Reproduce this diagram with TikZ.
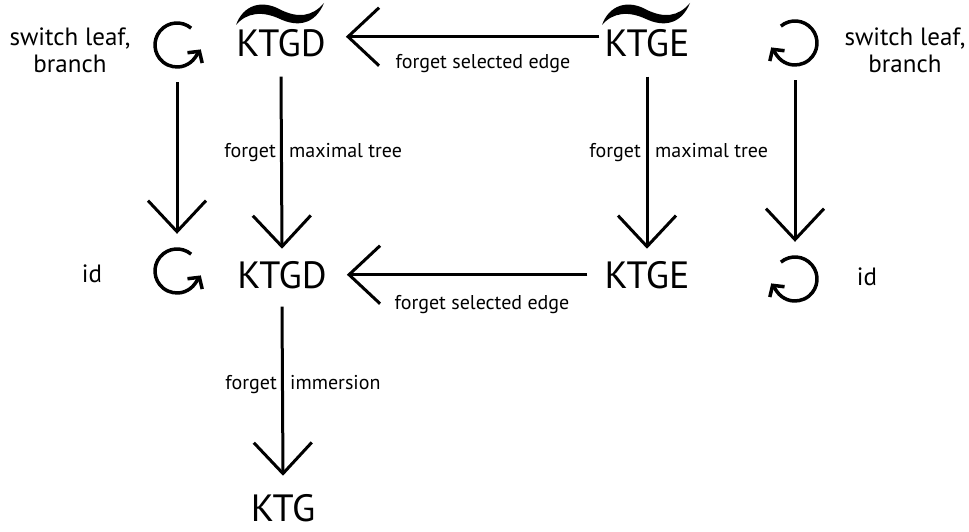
\documentclass[tikz,border=0pt]{standalone}
\usepackage{fontspec}
\setmainfont{PT Sans}
\usetikzlibrary{arrows.meta}
\begin{document}
\begin{tikzpicture}[x=1pt,y=1pt,
  big/.style={font=\fontsize{38}{40}\selectfont, inner sep=0pt, anchor=base},
  side/.style={font=\fontsize{25}{27}\selectfont, align=center, inner sep=0pt},
  lab/.style={font=\fontsize{20}{24}\selectfont, inner sep=0pt},
  spot/.style={circle, minimum size=74pt, inner sep=0pt},
  map/.style={line width=3pt, -{Straight Barb[length=31pt,width=58pt]}},
  cyc/.style={line width=3.5pt, -{Straight Barb[length=8pt,width=18pt]}},
]
\useasboundingbox (0,0) rectangle (969,531);

% top row
\node[side] (swL) at (70,481) {switch leaf,\\branch};
\node[spot] (cTL) at (177,486) {};
\node[big] (ktgdT) at (281,474) {KTGD};
\node[big] (ktgeT) at (647,474) {KTGE};
\node[spot] (cTR) at (795,488) {};
\node[side] (swR) at (905,481) {switch leaf,\\branch};

% middle row
\node[side, anchor=base] (idL) at (92,249) {id};
\node[spot] (cML) at (177,260) {};
\node[big] (ktgd) at (282,243) {KTGD};
\node[big] (ktge) at (647,243) {KTGE};
\node[spot] (cMR) at (795,252) {};
\node[side, anchor=base] (idR) at (867,246) {id};

% bottom
\node[big] (ktg) at (283,10) {KTG};

% tildes over the top row
\foreach \n in {ktgdT,ktgeT}{
  \begin{scope}[shift={(\n.base)}]
    \fill (-45,32) .. controls (-38,52) and (-19,58) .. (0,47)
          .. controls (17,39) and (31,40) .. (43,54)
          .. controls (34,32) and (16,30) .. (-1,38)
          .. controls (-18,46) and (-34,45) .. (-45,32) -- cycle;
  \end{scope}
}

% circular arrows
\foreach \c in {cTL,cML}{
  \draw[cyc] ([shift={(50:22pt)}]\c.center) arc[start angle=50, end angle=325, radius=22pt] -- ++(55:10pt);
}
\foreach \c in {cTR,cMR}{
  \draw[cyc] ([shift={(130:22pt)}]\c.center) arc[start angle=130, end angle=-145, radius=22pt] -- ++(125:10pt);
}

% edge labels
\node[lab, anchor=base] (fseT) at (483,462) {forget selected edge};
\node[lab, anchor=base] (fseM) at (482,222) {forget selected edge};
\node[lab, anchor=base east] (fmtL1) at (276,373) {forget};
\node[lab, anchor=base west] (fmtL2) at (289,373) {maximal tree};
\node[lab, anchor=base east] (fmtR1) at (641,373) {forget};
\node[lab, anchor=base west] (fmtR2) at (655,373) {maximal tree};
\node[lab, anchor=base east] (fi1) at (277,142) {forget};
\node[lab, anchor=base west] (fi2) at (290,142) {immersion};

% maps
\draw[map] ([xshift=-5pt,yshift=7pt]ktgeT.west) -- ([xshift=20pt,yshift=7pt]ktgdT.east);
\draw[map] ([xshift=-17pt]ktge.west) -- ([xshift=20pt]ktgd.east);
\draw[map] (cTL) -- (cML);
\draw[map] ([yshift=-19pt]ktgdT.south) -- ([yshift=12pt]ktgd.north);
\draw[map] ([yshift=-19pt]ktgeT.south) -- ([yshift=12pt]ktge.north);
\draw[map] (cTR) -- (cMR);
\draw[map] ([yshift=-18pt]ktgd.south) -- ([yshift=18pt]ktg.north);
\end{tikzpicture}
\end{document}
